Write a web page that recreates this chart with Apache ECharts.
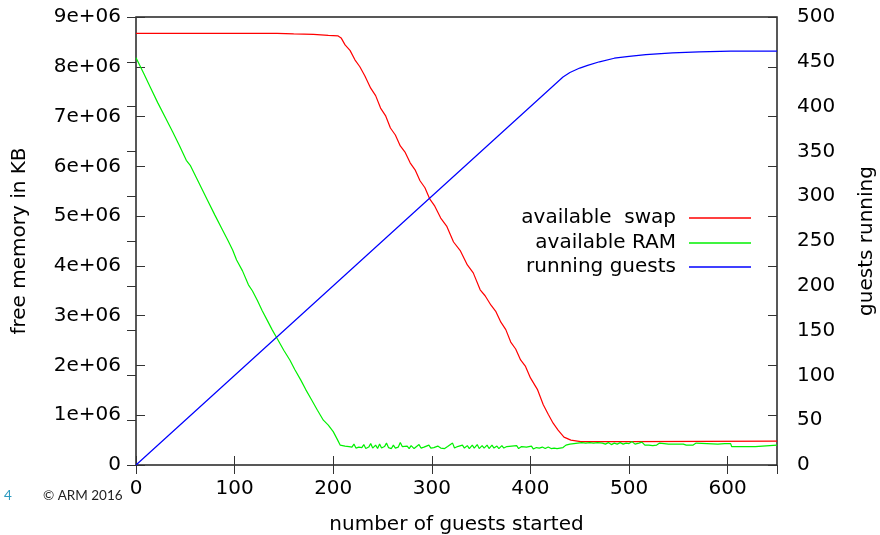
<!DOCTYPE html>
<html><head><meta charset="utf-8">
<script src="https://cdn.jsdelivr.net/npm/echarts@6/dist/echarts.min.js"></script>
<style>html,body{margin:0;padding:0;background:#fff}#c{width:880px;height:535px}</style>
</head><body><div id="c"></div>
<script>
// ---- data ----
const xTicks = [0, 100, 200, 300, 400, 500, 600];
const leftTicks = [0, 1e6, 2e6, 3e6, 4e6, 5e6, 6e6, 7e6, 8e6, 9e6];
const rightTicks = [0, 50, 100, 150, 200, 250, 300, 350, 400, 450, 500];

const swapGuests = [0,143,160,180,195,205,208,212,217,222,227,232,238,243,248,253,258,263,268,273,278,283,288,293,298,303,309,315,322,329,336,342,349,354,360,365,370,375,380,385,390,395,400,407,413,418,423,428,431,434,441,451,500,650];
const swapKB = [8.67e6,8.67e6,8.66e6,8.65e6,8.63e6,8.62e6,8.58e6,8.44e6,8.33e6,8.14e6,8.00e6,7.82e6,7.57e6,7.42e6,7.17e6,7.02e6,6.77e6,6.63e6,6.41e6,6.28e6,6.07e6,5.93e6,5.71e6,5.57e6,5.34e6,5.20e6,4.96e6,4.80e6,4.48e6,4.30e6,4.02e6,3.86e6,3.52e6,3.40e6,3.21e6,3.08e6,2.87e6,2.72e6,2.47e6,2.33e6,2.11e6,1.98e6,1.75e6,1.52e6,1.21e6,1.02e6,0.84e6,0.70e6,0.63e6,0.56e6,0.50e6,0.47e6,0.47e6,0.48e6];

const ramGuests = [0,8,15,22,30,37,44,51,55,61,67,73,80,88,93,98,102,108,114,118,123,128,133,138,144,150,156,161,167,172,178,184,190,195,200,204,207,212,216,
219,221,223,226,229,231,233,236,238,240,243,245,247,249,252,254,256,259,261,263,266,268,270,272,275,277,279,282,284,287,289,292,294,297,299,302,304,306,309,311,313,316,318,321,323,326,328,331,333,336,338,341,343,346,348,351,353,356,358,361,363,366,368,371,373,376,378,381,383,386,388,391,393,396,398,401,403,406,409,412,415,418,421,424,427,430,
433,436,438,440,442,444,446,448,450,452,454,456,458,460,462,464,466,468,470,473,476,479,482,485,488,491,494,497,500,503,506,510,513,516,520,524,528,531,533,540,555,558,565,568,570,590,597,603,604,628,629,650];
const ramKB = [8.18e6,7.86e6,7.57e6,7.28e6,6.97e6,6.70e6,6.42e6,6.12e6,6.02e6,5.78e6,5.54e6,5.30e6,5.02e6,4.71e6,4.52e6,4.32e6,4.12e6,3.90e6,3.62e6,3.50e6,3.31e6,3.10e6,2.91e6,2.72e6,2.51e6,2.30e6,2.11e6,1.92e6,1.71e6,1.52e6,1.31e6,1.10e6,0.90e6,0.80e6,0.67e6,0.52e6,0.40e6,0.38e6,0.37e6,
0.36e6,0.42e6,0.34e6,0.36e6,0.35e6,0.41e6,0.33e6,0.36e6,0.43e6,0.34e6,0.40e6,0.33e6,0.42e6,0.34e6,0.37e6,0.44e6,0.35e6,0.33e6,0.40e6,0.34e6,0.36e6,0.45e6,0.37e6,0.34e6,0.38e6,0.33e6,0.39e6,0.33e6,0.35e6,0.41e6,0.34e6,0.36e6,0.33e6,0.40e6,0.34e6,0.35e6,0.33e6,0.38e6,0.34e6,0.36e6,0.33e6,0.37e6,0.35e6,0.44e6,0.34e6,0.37e6,0.33e6,0.40e6,0.34e6,0.39e6,0.33e6,0.40e6,0.34e6,0.41e6,0.33e6,0.39e6,0.34e6,0.40e6,0.33e6,0.40e6,0.34e6,0.38e6,0.33e6,0.39e6,0.34e6,0.37e6,0.33e6,0.38e6,0.34e6,0.39e6,0.33e6,0.37e6,0.34e6,0.36e6,0.33e6,0.38e6,0.32e6,0.35e6,0.34e6,0.36e6,0.33e6,0.36e6,0.33e6,0.34e6,0.33e6,0.34e6,
0.35e6,0.40e6,0.37e6,0.42e6,0.39e6,0.43e6,0.40e6,0.44e6,0.41e6,0.45e6,0.41e6,0.44e6,0.41e6,0.45e6,0.42e6,0.44e6,0.41e6,0.45e6,0.41e6,0.44e6,0.42e6,0.45e6,0.41e6,0.44e6,0.42e6,0.45e6,0.42e6,0.44e6,0.43e6,0.47e6,0.42e6,0.44e6,0.46e6,0.40e6,0.40e6,0.39e6,0.40e6,0.44e6,0.42e6,0.42e6,0.42e6,0.40e6,0.40e6,0.44e6,0.42e6,0.42e6,0.43e6,0.43e6,0.37e6,0.37e6,0.40e6,0.40e6];

const runGuests = [0,433,440,450,458,470,485,500,517,544,571,603,650];
const runCount  = [0,433,438,443,446,450,454,456,458,460,461,462,462];

const seriesNames = ['available  swap', 'available RAM', 'running guests'];

// ---- build ----
const zip = (a, b) => a.map((v, i) => [v, b[i]]);
const FONT = 'DejaVu Sans';
const FS = 20;
const chart = echarts.init(document.getElementById('c'), null, {renderer: 'canvas'});
const tickStyle = {show: true, inside: true, length: 9, lineStyle: {color: '#333', width: 1}};
const fmtLeft = v => v === 0 ? '0' : (v / 1e6) + 'e+06';

function legendFor(name, top) {
  return {
    data: [name], right: 129, top: top, orient: 'horizontal', align: 'right',
    itemWidth: 62, itemHeight: 1.5, itemGap: 0, padding: 0,
    icon: 'rect', selectedMode: false,
    textStyle: {fontFamily: FONT, fontSize: FS, color: '#000', padding: [0, 8, 0, 0]}
  };
}

chart.setOption({
  animation: false,
  backgroundColor: '#fff',
  grid: {left: 136, right: 103, top: 17, bottom: 70, show: true, borderColor: '#222', borderWidth: 1.5,
         containLabel: false, outerBoundsMode: 'none'},
  legend: [legendFor(seriesNames[0], 208), legendFor(seriesNames[1], 233), legendFor(seriesNames[2], 257)],
  xAxis: [
    {type: 'value', min: 0, max: 650, interval: 100, position: 'bottom',
     name: 'number of guests started', nameLocation: 'middle', nameGap: 50,
     nameTextStyle: {fontFamily: FONT, fontSize: FS, color: '#000'},
     axisLine: {show: false}, splitLine: {show: false}, axisTick: tickStyle,
     axisLabel: {fontFamily: FONT, fontSize: FS, color: '#000', margin: 14, showMaxLabel: false,
       formatter: v => xTicks.includes(v) ? String(v) : ''}},
    {type: 'value', min: 0, max: 650, interval: 100, position: 'top',
     axisLine: {show: false}, splitLine: {show: false}, axisTick: tickStyle, axisLabel: {show: false}}
  ],
  yAxis: [
    {type: 'value', min: 0, max: 9e6, interval: 1e6, position: 'left',
     name: 'free memory in KB', nameLocation: 'middle', nameGap: 106, nameRotate: 90,
     nameTextStyle: {fontFamily: FONT, fontSize: FS, color: '#000'},
     axisLine: {show: false}, splitLine: {show: false}, axisTick: tickStyle,
     axisLabel: {fontFamily: FONT, fontSize: FS, color: '#000', margin: 15,
       formatter: v => leftTicks.includes(v) ? fmtLeft(v) : ''}},
    {type: 'value', min: 0, max: 500, interval: 50, position: 'right',
     name: 'guests running', nameLocation: 'middle', nameGap: 80, nameRotate: 90,
     nameTextStyle: {fontFamily: FONT, fontSize: FS, color: '#000'},
     axisLine: {show: false}, splitLine: {show: false}, axisTick: tickStyle,
     axisLabel: {fontFamily: FONT, fontSize: FS, color: '#000', margin: 20,
       formatter: v => rightTicks.includes(v) ? String(v) : ''}},
    {type: 'value', min: 0, max: 9e6, interval: 1e6, position: 'right',
     axisLine: {show: false}, splitLine: {show: false}, axisTick: tickStyle, axisLabel: {show: false}}
  ],
  series: [
    {name: seriesNames[0], type: 'line', yAxisIndex: 0, data: zip(swapGuests, swapKB),
     showSymbol: false, symbol: 'none', lineStyle: {color: '#ff0000', width: 1.2}, itemStyle: {color: '#ff0000'}},
    {name: seriesNames[1], type: 'line', yAxisIndex: 0, data: zip(ramGuests, ramKB),
     showSymbol: false, symbol: 'none', lineStyle: {color: '#00f000', width: 1.2}, itemStyle: {color: '#00f000'}},
    {name: seriesNames[2], type: 'line', yAxisIndex: 1, data: zip(runGuests, runCount),
     showSymbol: false, symbol: 'none', lineStyle: {color: '#0000ff', width: 1.2}, itemStyle: {color: '#0000ff'}}
  ],
  graphic: [
    {type: 'text', left: 4, top: 489, style: {text: '4', fontFamily: 'Lato', fontSize: 13.5, fill: '#2e9bc0'}},
    {type: 'text', left: 43, top: 489, style: {text: '© ARM 2016', fontFamily: 'Lato', fontSize: 13.5, fill: '#222'}}
  ]
});
</script></body></html>
